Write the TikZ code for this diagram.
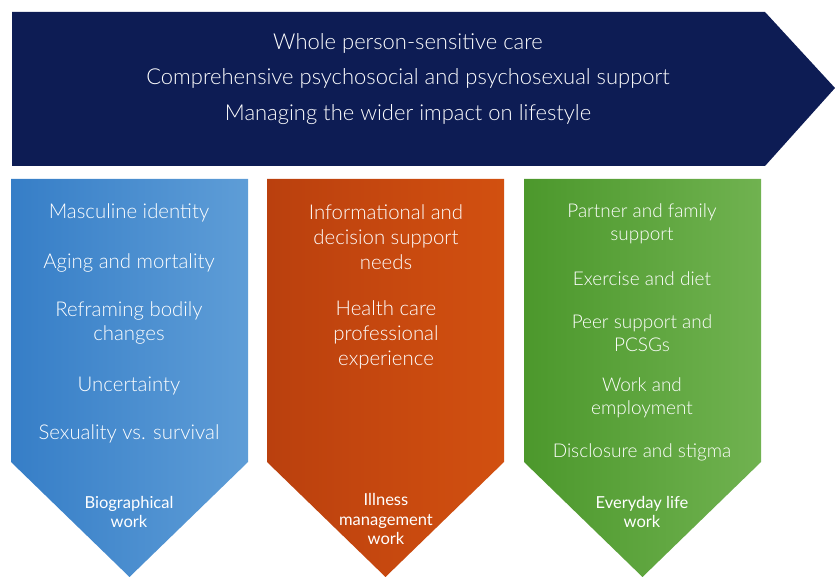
\documentclass[tikz,border=0pt]{standalone}
\usepackage{fontspec}
\setmainfont{Lato}
\newfontfamily\lightfont{Lato Light}

\definecolor{navybar}{RGB}{13,28,84}
\definecolor{bioleft}{RGB}{54,126,199}
\definecolor{bioright}{RGB}{94,157,215}
\definecolor{illleft}{RGB}{186,64,14}
\definecolor{illright}{RGB}{210,80,16}
\definecolor{dayleft}{RGB}{76,152,44}
\definecolor{dayright}{RGB}{112,178,80}

\tikzset{
  topline/.style={text=white, font=\lightfont\fontsize{12.5}{15}\selectfont},
  item/.style={text=white, align=center, font=\lightfont\fontsize{11.6}{14.2}\selectfont},
  smallitem/.style={item, font=\lightfont\fontsize{10.8}{12.8}\selectfont},
  worklabel/.style={text=white, align=center, font=\fontsize{9.4}{11}\selectfont}
}

\begin{document}
\begin{tikzpicture}[x=0.02cm, y=-0.02cm]
\useasboundingbox (0,0) rectangle (835,577);

% top arrow
\fill[navybar] (12,12) -- (765,12) -- (835,88) -- (765,166) -- (12,166) -- cycle;
\node[topline] (whole) at (408,43) {Whole person-sensitive care};
\node[topline] (psycho) at (408,78) {Comprehensive psychosocial and psychosexual support};
\node[topline] (lifestyle) at (408,115) {Managing the wider impact on lifestyle};

% three downward arrows
\shade[left color=bioleft, right color=bioright] (11,179) -- (248,179) -- (248,462) -- (129.5,577) -- (11,462) -- cycle;
\shade[left color=illleft, right color=illright] (267,179) -- (504,179) -- (504,462) -- (385.5,577) -- (267,462) -- cycle;
\shade[left color=dayleft, right color=dayright] (524,179) -- (761,179) -- (761,462) -- (642.5,577) -- (524,462) -- cycle;

% biographical work
\node[item] (masculine) at (129,213) {Masculine identity};
\node[item] (aging) at (129,263) {Aging and mortality};
\node[item] (reframing) at (129,323) {Reframing bodily\\changes};
\node[item] (uncertainty) at (129,386) {Uncertainty};
\node[item] (sexuality) at (129,434) {Sexuality vs. survival};
\node[worklabel] (bio) at (129,512) {Biographical\\work};

% illness management work
\node[item] (informational) at (386,237) {Informational and\\decision support\\needs};
\node[item] (hcp) at (386,335) {Health care\\professional\\experience};
\node[worklabel] (illness) at (386,519) {Illness\\management\\work};

% everyday life work
\node[smallitem] (partner) at (642,224) {Partner and family\\support};
\node[smallitem] (exercise) at (642,279) {Exercise and diet};
\node[smallitem] (peer) at (642,333) {Peer support and\\PCSGs};
\node[smallitem] (employment) at (642,398) {Work and\\employment};
\node[smallitem] (disclosure) at (642,452) {Disclosure and stigma};
\node[worklabel] (everyday) at (642,512) {Everyday life\\work};
\end{tikzpicture}
\end{document}
